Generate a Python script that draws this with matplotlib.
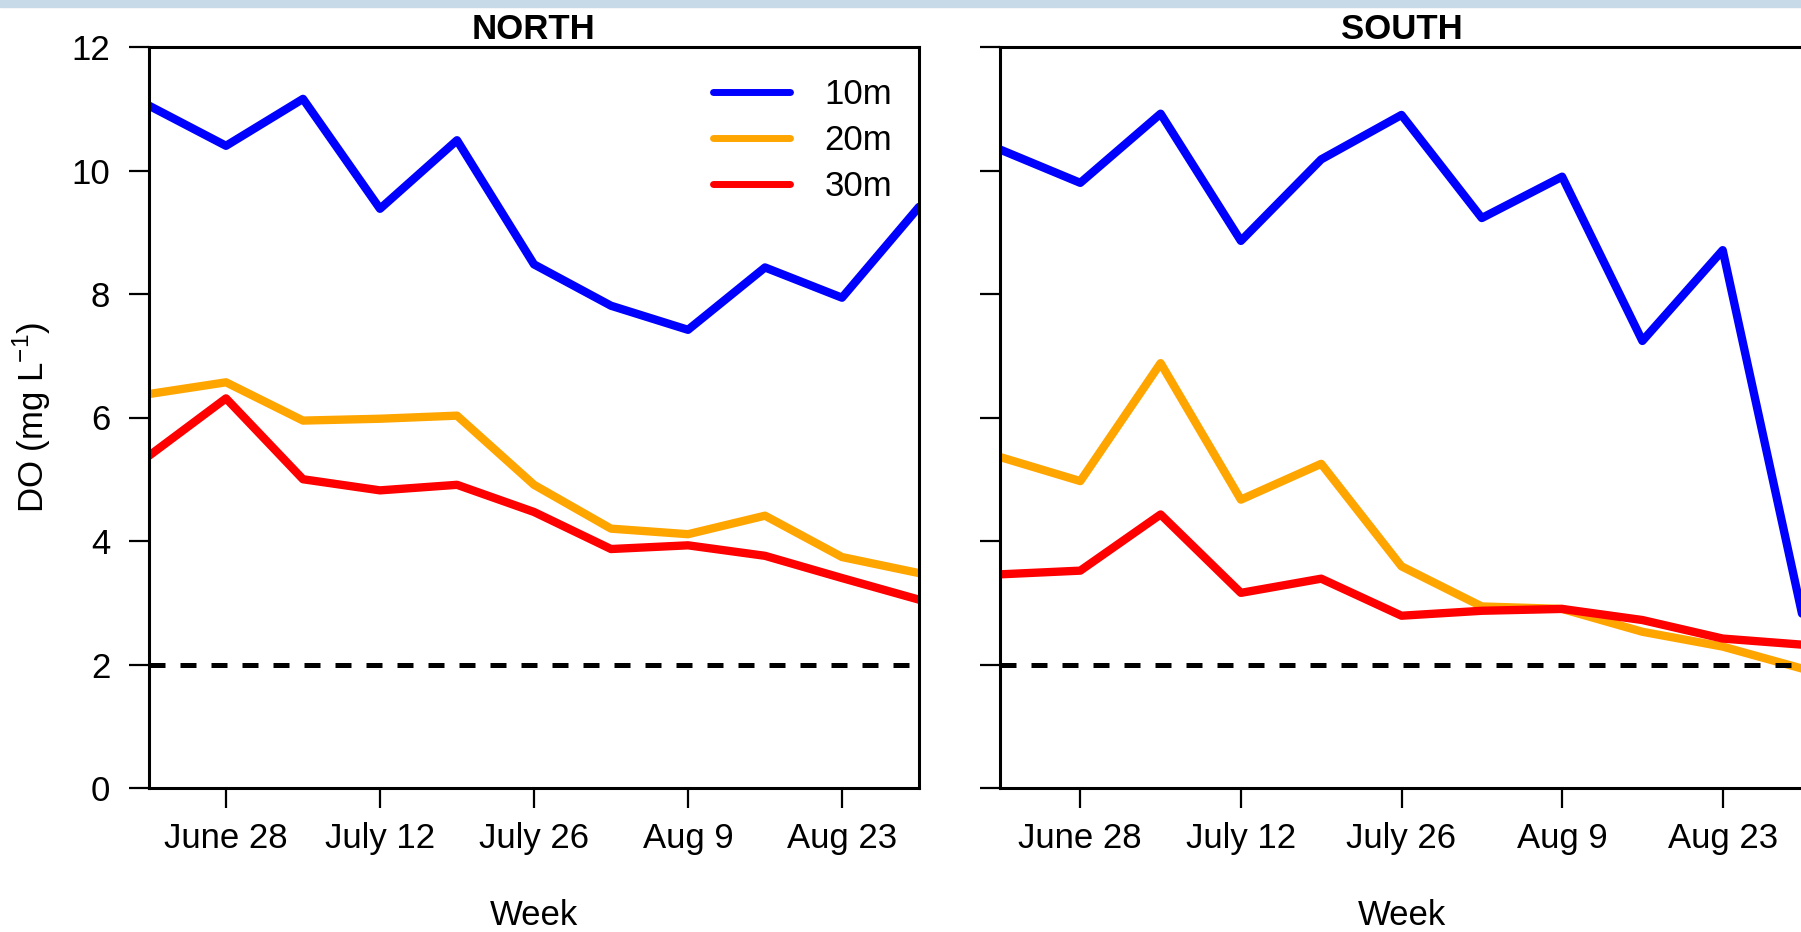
import matplotlib
matplotlib.use("Agg")
import matplotlib.pyplot as plt
from matplotlib.patches import Rectangle
import numpy as np

plt.rcParams['font.family'] = ['Liberation Sans', 'DejaVu Sans']
plt.rcParams['mathtext.fontset'] = 'custom'
plt.rcParams['mathtext.rm'] = 'Liberation Sans'

# weekly sampling, June 21 .. Aug 30
weeks = np.arange(11)
tick_weeks = [1, 3, 5, 7, 9]
tick_labels = ['June 28', 'July 12', 'July 26', 'Aug 9', 'Aug 23']
depths = ['10m', '20m', '30m']
colors = ['#0000ff', '#ffa500', '#ff0000']

north_10 = [11.05, 10.40, 11.16, 9.38, 10.49, 8.48, 7.81, 7.42, 8.43, 7.94, 9.41]
north_20 = [6.38, 6.57, 5.95, 5.98, 6.03, 4.91, 4.20, 4.11, 4.41, 3.74, 3.48]
north_30 = [5.38, 6.31, 5.00, 4.82, 4.91, 4.47, 3.87, 3.93, 3.76, 3.40, 3.05]

south_10 = [10.34, 9.80, 10.92, 8.86, 10.18, 10.90, 9.23, 9.90, 7.24, 8.71, 2.75]
south_20 = [5.36, 4.97, 6.88, 4.67, 5.25, 3.59, 2.94, 2.90, 2.53, 2.29, 1.93]
south_30 = [3.46, 3.52, 4.43, 3.16, 3.39, 2.79, 2.87, 2.90, 2.72, 2.42, 2.32]

hypoxia = 2.0

W, H = 1801, 932
fig = plt.figure(figsize=(W / 100, H / 100), dpi=100)
fig.patches.append(Rectangle((0, 1 - 7 / H), 1, 7 / H, transform=fig.transFigure,
                             color='#c6dae7', zorder=-1))

def px_axes(l, t, r, b):
    return fig.add_axes([l / W, (H - b) / H, (r - l) / W, (b - t) / H])

ax_n = px_axes(149, 47, 919, 788)
ax_s = px_axes(1000, 47, 1803, 788)

panels = [(ax_n, 'NORTH', [north_10, north_20, north_30]),
          (ax_s, 'SOUTH', [south_10, south_20, south_30])]

for ax, name, series in panels:
    for vals, c, lab in zip(series, colors, depths):
        ax.plot(weeks, vals, color=c, lw=6.0, label=lab,
                solid_joinstyle='round', solid_capstyle='round')
    ax.axhline(hypoxia, color='black', lw=3.6, dashes=(3.2, 3.0))
    ax.set_xlim(weeks[0], weeks[-1])
    ax.set_ylim(0, 12)
    ax.set_yticks(np.arange(0, 13, 2))
    ax.set_xticks(tick_weeks)
    ax.set_xticklabels(tick_labels)
    for s in ax.spines.values():
        s.set_linewidth(2.2)
    ax.tick_params(axis='both', length=14.4, width=1.6, labelsize=25, direction='out')
    ax.tick_params(axis='x', pad=10)
    ax.tick_params(axis='y', pad=13.5)
    ax.set_title(name, fontsize=25, fontweight='bold', pad=5.8)
    ax.set_xlabel('Week', fontsize=25, va='baseline')
    ax.xaxis.set_label_coords(0.5, -0.185)

ax_s.tick_params(axis='y', labelleft=False)

ax_n.set_ylabel(r'DO (mg L$^{\mathregular{-1}}$)', fontsize=25, va='center')
ax_n.yaxis.set_label_coords(-0.152, 0.5)

leg = ax_n.legend(loc='upper right', bbox_to_anchor=(0.965, 0.958), frameon=False,
                  fontsize=25, handlelength=2.2, handletextpad=1.0,
                  labelspacing=0.37, borderpad=0, borderaxespad=0)
for h in leg.get_lines():
    h.set_linewidth(5.0)

fig.savefig('out.png', dpi=100)
